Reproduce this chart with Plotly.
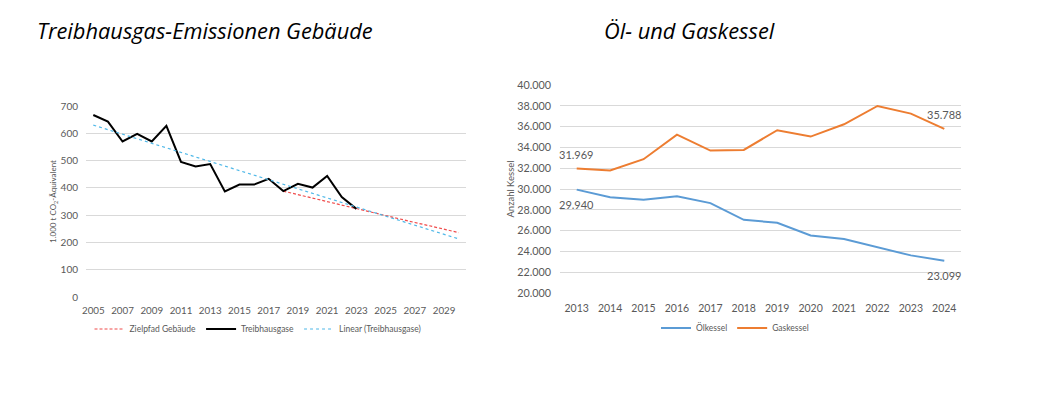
import plotly.graph_objects as go

# ---- Left chart data ----
thg_years = list(range(2005, 2024))
thg_values = [667, 643, 570, 598, 570, 627, 495, 478, 487, 387, 412, 412, 433, 388, 415, 401, 444, 366, 323]
ziel_years = list(range(2018, 2031))
ziel_values = [388, 375, 362, 349, 336, 323, 310, 298, 286, 273, 261, 248, 236]
trend_years = [2005, 2030]
trend_values = [630, 213]

# ---- Right chart data ----
kessel_years = list(range(2013, 2025))
oel_values = [29940, 29216, 28960, 29312, 28640, 27040, 26752, 25536, 25184, 24416, 23616, 23099]
gas_values = [31969, 31776, 32864, 35232, 33696, 33760, 35648, 35040, 36224, 37984, 37248, 35788]

OFF = 8  # default body margin of the page
W, H = 1048 - 2 * OFF, 420 - 2 * OFF
def px_x(p): return (p - OFF) / W
def px_y(p): return 1 - (p - OFF) / H

FONT = "Lato"
GRAY = "#595959"
GRID = "#d9d9d9"

fig = go.Figure()

fig.add_trace(go.Scatter(x=ziel_years, y=ziel_values, mode="lines", name="Zielpfad Gebäude",
                         line=dict(color="#f04b4b", width=1.2, dash="3px,2px"), xaxis="x", yaxis="y",
                         legend="legend"))
fig.add_trace(go.Scatter(x=thg_years, y=thg_values, mode="lines", name="Treibhausgase",
                         line=dict(color="#000000", width=2), xaxis="x", yaxis="y", legend="legend"))
fig.add_trace(go.Scatter(x=trend_years, y=trend_values, mode="lines", name="Linear (Treibhausgase)",
                         line=dict(color="#4fb8e8", width=1.2, dash="dot"), xaxis="x", yaxis="y",
                         legend="legend"))

fig.add_trace(go.Scatter(x=kessel_years, y=oel_values, mode="lines", name="Ölkessel",
                         line=dict(color="#5b9bd5", width=2),
                         xaxis="x2", yaxis="y2", legend="legend2"))
fig.add_trace(go.Scatter(x=kessel_years, y=gas_values, mode="lines", name="Gaskessel",
                         line=dict(color="#ed7d31", width=2),
                         xaxis="x2", yaxis="y2", legend="legend2"))

def fmt(v):
    return f"{v:,}".replace(",", ".")

labels = [
    (kessel_years[0], gas_values[0], 14),
    (kessel_years[-1], gas_values[-1], 14),
    (kessel_years[0], oel_values[0], -15),
    (kessel_years[-1], oel_values[-1], -15),
]

def ax(size):
    return dict(showline=False, zeroline=False, ticks="", automargin=False,
                tickfont=dict(size=size, color=GRAY, family=FONT))

annotations = [
    dict(text="<i>Treibhausgas-Emissionen Gebäude</i>", x=px_x(35), y=px_y(30), xref="paper", yref="paper",
         xanchor="left", yanchor="middle", showarrow=False,
         font=dict(family="Open Sans", size=21.8, color="#000000")),
    dict(text="<i>Öl- und Gaskessel</i>", x=px_x(602), y=px_y(30), xref="paper", yref="paper",
         xanchor="left", yanchor="middle", showarrow=False,
         font=dict(family="Open Sans", size=21.8, color="#000000")),
]
for xv, yv, ys in labels:
    annotations.append(dict(text=fmt(yv), x=xv, y=yv, xref="x2", yref="y2", showarrow=False,
                            yshift=ys, xanchor="center", yanchor="middle",
                            font=dict(size=11, color=GRAY, family=FONT)))

fig.update_layout(
    width=W, height=H, margin=dict(l=0, r=0, t=0, b=0),
    paper_bgcolor="white", plot_bgcolor="white",
    separators=",.",
    font=dict(family=FONT, color=GRAY),
    xaxis=dict(domain=[px_x(86), px_x(466)], range=[2004.5, 2030.5], tick0=2005, dtick=2,
               showgrid=False, anchor="y", ticklabelstandoff=6, **ax(9.8)),
    yaxis=dict(domain=[px_y(297), px_y(106)], range=[0, 700], dtick=100, showgrid=True,
               gridcolor=GRID, gridwidth=1, anchor="x", ticklabelstandoff=7,
               title=dict(text="1.000 t CO<sub>2</sub>-Äquivalent", font=dict(size=8, color=GRAY), standoff=2),
               **ax(10)),
    xaxis2=dict(domain=[px_x(560), px_x(961)], range=[2012.5, 2024.5], dtick=1,
                showgrid=False, anchor="y2", ticklabelstandoff=7, **ax(10.5)),
    yaxis2=dict(domain=[px_y(293), px_y(85)], range=[20000, 40000], dtick=2000, tickformat=",d",
                showgrid=True, gridcolor=GRID, gridwidth=1, anchor="x2", ticklabelstandoff=8,
                title=dict(text="Anzahl Kessel", font=dict(size=9.5, color=GRAY), standoff=0),
                **ax(10.8)),
    legend=dict(orientation="h", x=px_x(258), y=px_y(329), xanchor="center", yanchor="middle",
                font=dict(size=8.5, color=GRAY), itemwidth=30),
    legend2=dict(orientation="h", x=px_x(735), y=px_y(328), xanchor="center", yanchor="middle",
                 font=dict(size=8.5, color=GRAY), itemwidth=30),
    annotations=annotations,
)

fig.write_html("out.html")
